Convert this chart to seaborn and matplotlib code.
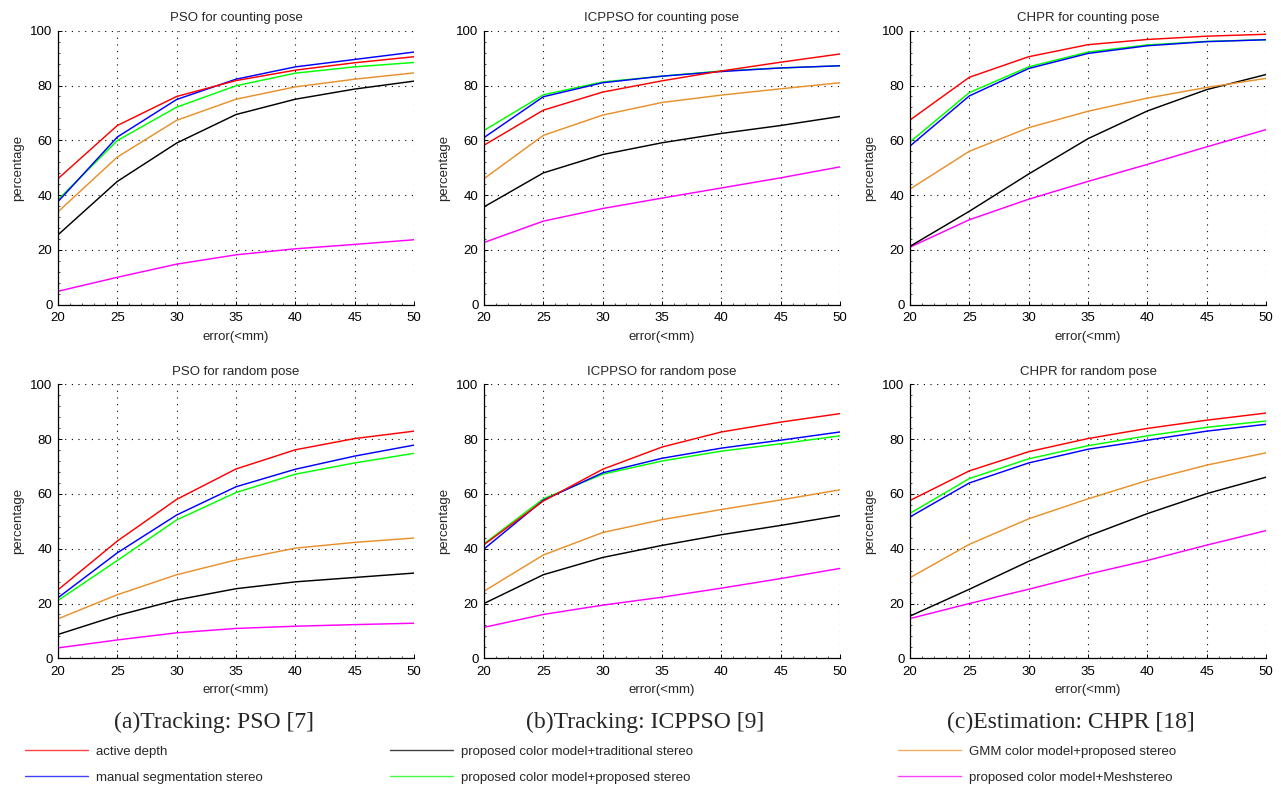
import matplotlib
matplotlib.use("Agg")
import matplotlib.pyplot as plt
from matplotlib.ticker import MultipleLocator
import numpy as np
import pandas as pd
import seaborn as sns

# error thresholds (mm)
errors = [20, 25, 30, 35, 40, 45, 50]

methods = [
    "active depth",
    "manual segmentation stereo",
    "proposed color model+traditional stereo",
    "proposed color model+proposed stereo",
    "GMM color model+proposed stereo",
    "proposed color model+Meshstereo",
]
colors = ["#FF0000", "#0000FF", "#000000", "#00FF00", "#E8912B", "#FF00FF"]

# PSO, counting pose
pso_count_active = [46.0, 65.4, 76.0, 81.8, 85.6, 88.3, 90.5]
pso_count_manual = [37.6, 61.2, 74.9, 82.3, 86.8, 89.5, 92.2]
pso_count_trad = [25.5, 45.0, 59.0, 69.4, 75.0, 78.7, 81.6]
pso_count_prop = [38.3, 59.9, 72.1, 79.9, 84.5, 86.8, 88.4]
pso_count_gmm = [33.9, 53.9, 67.3, 75.0, 79.5, 82.3, 84.6]
pso_count_mesh = [4.9, 10.0, 14.8, 18.2, 20.4, 22.0, 23.7]

# ICPPSO, counting pose
icp_count_active = [58.2, 71.0, 77.6, 81.7, 85.3, 88.5, 91.5]
icp_count_manual = [61.0, 75.9, 81.0, 83.4, 85.1, 86.4, 87.2]
icp_count_trad = [35.7, 48.1, 54.8, 59.1, 62.5, 65.4, 68.7]
icp_count_prop = [63.6, 76.6, 81.3, 83.4, 85.3, 86.4, 87.2]
icp_count_gmm = [46.0, 61.8, 69.2, 73.8, 76.5, 78.8, 81.0]
icp_count_mesh = [22.7, 30.5, 35.1, 38.9, 42.6, 46.3, 50.3]

# CHPR, counting pose
chpr_count_active = [67.4, 83.0, 90.5, 94.9, 96.8, 98.0, 98.7]
chpr_count_manual = [57.9, 76.2, 86.2, 91.7, 94.5, 96.0, 96.7]
chpr_count_trad = [21.3, 34.1, 47.7, 60.6, 70.7, 78.5, 84.0]
chpr_count_prop = [59.4, 77.4, 86.8, 92.2, 94.8, 96.1, 96.7]
chpr_count_gmm = [42.2, 56.0, 64.6, 70.6, 75.4, 79.3, 82.6]
chpr_count_mesh = [21.0, 31.0, 38.5, 45.0, 51.2, 57.6, 63.9]

# PSO, random pose
pso_rand_active = [25.0, 42.8, 58.0, 69.1, 76.1, 80.2, 82.9]
pso_rand_manual = [22.1, 38.5, 52.3, 62.6, 69.0, 73.8, 77.8]
pso_rand_trad = [8.7, 15.6, 21.3, 25.4, 27.9, 29.5, 31.1]
pso_rand_prop = [21.1, 35.7, 50.5, 60.5, 67.2, 71.3, 74.8]
pso_rand_gmm = [14.4, 23.2, 30.5, 35.9, 40.2, 42.3, 43.9]
pso_rand_mesh = [3.8, 6.7, 9.3, 10.9, 11.7, 12.3, 12.8]

# ICPPSO, random pose
icp_rand_active = [41.5, 57.4, 69.0, 77.1, 82.6, 86.2, 89.3]
icp_rand_manual = [39.9, 57.7, 67.7, 73.0, 76.7, 79.6, 82.6]
icp_rand_trad = [20.0, 30.5, 36.8, 41.2, 45.1, 48.5, 52.1]
icp_rand_prop = [41.8, 58.2, 67.2, 72.0, 75.6, 78.3, 81.2]
icp_rand_gmm = [24.5, 37.7, 45.9, 50.6, 54.3, 57.8, 61.5]
icp_rand_mesh = [11.3, 16.0, 19.4, 22.3, 25.6, 29.1, 32.8]

# CHPR, random pose
chpr_rand_active = [57.6, 68.4, 75.4, 80.2, 83.9, 86.9, 89.5]
chpr_rand_manual = [51.6, 64.0, 71.3, 76.3, 79.6, 82.9, 85.4]
chpr_rand_trad = [15.4, 25.2, 35.4, 44.6, 52.8, 60.1, 66.1]
chpr_rand_prop = [52.9, 65.6, 72.8, 77.6, 81.2, 84.3, 86.6]
chpr_rand_gmm = [29.4, 41.6, 50.9, 58.2, 64.9, 70.5, 75.0]
chpr_rand_mesh = [14.5, 20.0, 25.2, 30.7, 35.7, 41.3, 46.6]

panel_titles = [
    "PSO for counting pose", "ICPPSO for counting pose", "CHPR for counting pose",
    "PSO for random pose", "ICPPSO for random pose", "CHPR for random pose",
]
captions = ["(a)Tracking: PSO [7]", "(b)Tracking: ICPPSO [9]", "(c)Estimation: CHPR [18]"]

panel_series = [
    [pso_count_active, pso_count_manual, pso_count_trad, pso_count_prop, pso_count_gmm, pso_count_mesh],
    [icp_count_active, icp_count_manual, icp_count_trad, icp_count_prop, icp_count_gmm, icp_count_mesh],
    [chpr_count_active, chpr_count_manual, chpr_count_trad, chpr_count_prop, chpr_count_gmm, chpr_count_mesh],
    [pso_rand_active, pso_rand_manual, pso_rand_trad, pso_rand_prop, pso_rand_gmm, pso_rand_mesh],
    [icp_rand_active, icp_rand_manual, icp_rand_trad, icp_rand_prop, icp_rand_gmm, icp_rand_mesh],
    [chpr_rand_active, chpr_rand_manual, chpr_rand_trad, chpr_rand_prop, chpr_rand_gmm, chpr_rand_mesh],
]

sns.set_style("white")
plt.rcParams["font.family"] = ["Liberation Sans", "DejaVu Sans"]
plt.rcParams["font.size"] = 9.5

W, H = 1281, 787
fig = plt.figure(figsize=(W / 100, H / 100), dpi=100)

col_left = [58, 484, 910]
ax_w = 356
row_top = [30.7, 384.3]
ax_h = 274

palette = dict(zip(methods, colors))
# draw order so the lower curves sit under the upper ones
draw_order = [5, 2, 4, 3, 1, 0]

axes = []
for i, series in enumerate(panel_series):
    r, c = divmod(i, 3)
    ax = fig.add_axes([col_left[c] / W, 1 - (row_top[r] + ax_h) / H, ax_w / W, ax_h / H])
    rows = []
    for k in draw_order:
        for e, v in zip(errors, series[k]):
            rows.append({"error": e, "percentage": v, "method": methods[k]})
    df = pd.DataFrame(rows)
    sns.lineplot(data=df, x="error", y="percentage", hue="method", palette=palette,
                 hue_order=[methods[k] for k in draw_order], linewidth=1.05,
                 ax=ax, legend=False, sort=False)
    ax.set_xlim(20, 50)
    ax.set_ylim(0, 100)
    ax.xaxis.set_major_locator(MultipleLocator(5))
    ax.yaxis.set_major_locator(MultipleLocator(20))
    ax.xaxis.set_minor_locator(MultipleLocator(1))
    ax.yaxis.set_minor_locator(MultipleLocator(4))
    ax.tick_params(which="major", direction="in", length=3, width=0.7, colors="black",
                   labelsize=9.5)
    ax.tick_params(axis="x", which="major", pad=5.5)
    ax.tick_params(axis="y", which="major", pad=4)
    ax.tick_params(which="minor", direction="in", length=1.6, width=0.5, colors="black")
    ax.tick_params(axis="x", which="both", bottom=True)
    ax.tick_params(axis="y", which="both", left=True)
    ax.grid(True, which="major", color="black", linestyle=(0, (1, 5)), linewidth=0.8)
    for side in ["top", "right"]:
        ax.spines[side].set_visible(False)
    for side in ["left", "bottom"]:
        ax.spines[side].set_color("black")
        ax.spines[side].set_linewidth(0.9)
    ax.set_title(panel_titles[i], fontsize=9.5, pad=7)
    ax.set_xlabel("error(<mm)", fontsize=9.5, labelpad=4.5)
    ax.set_ylabel("percentage", fontsize=9.5, labelpad=4)
    axes.append(ax)

# subfigure captions
cap_x = [214, 645, 1071]
for cx, txt in zip(cap_x, captions):
    fig.text(cx / W, 1 - 722 / H, txt, ha="center", va="center",
             fontsize=17, family=["Liberation Serif", "DejaVu Serif"])

# legend, split into three two-row blocks
handles = {m: plt.Line2D([], [], color=col, linewidth=1.0, alpha=0.75)
           for m, col in zip(methods, colors)}
legend_blocks = [
    ([methods[0], methods[1]], 25),
    ([methods[2], methods[3]], 390),
    ([methods[4], methods[5]], 898),
]
for labels, x0 in legend_blocks:
    fig.legend([handles[m] for m in labels], labels, loc="center left",
               bbox_to_anchor=(x0 / W, 1 - 764.5 / H), frameon=False,
               fontsize=9.5, handlelength=4.8, handletextpad=0.55,
               borderpad=0, borderaxespad=0, labelspacing=1.05)

fig.savefig("out.png", dpi=100)
